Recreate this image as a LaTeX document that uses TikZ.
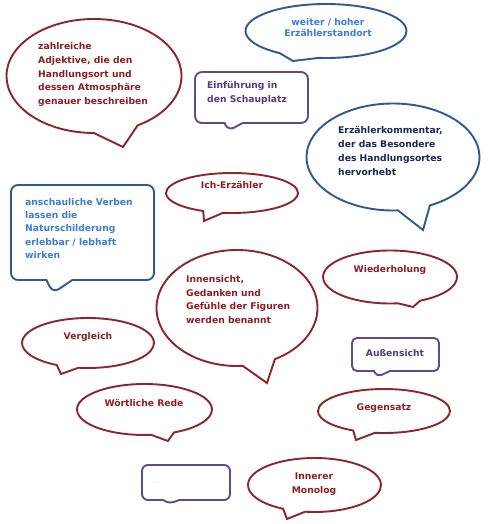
\documentclass[tikz,border=0pt]{standalone}
\usepackage{fontspec}
\setmainfont{DejaVu Sans}
\usetikzlibrary{shapes.callouts}
\definecolor{redline}{RGB}{140,38,40}
\definecolor{redtext}{RGB}{140,30,35}
\definecolor{blueline}{RGB}{45,90,145}
\definecolor{bluetext}{RGB}{60,125,210}
\definecolor{navytext}{RGB}{25,40,85}
\definecolor{purpline}{RGB}{95,75,140}
\definecolor{purptext}{RGB}{80,60,130}
\tikzset{
  bub/.style={ellipse callout, draw=redline, line width=1.9pt, inner sep=0pt, outer sep=0pt, callout pointer arc=22},
  bluebub/.style={bub, draw=blueline},
  box/.style={rectangle callout, draw=purpline, line width=1.9pt, inner sep=0pt, outer sep=0pt, rounded corners=7pt, callout pointer width=18pt},
  bluebox/.style={box, draw=blueline},
  txt/.style={font=\fontsize{9.2}{13.6}\selectfont\bfseries, align=left, inner sep=0pt},
  ctxt/.style={txt, align=center},
}
\begin{document}
\begin{tikzpicture}[x=1pt,y=-1pt]
\useasboundingbox[fill=white] (0,0) rectangle (488,524);
% shapes
\node[bub, minimum width=175pt, minimum height=114pt, callout absolute pointer={(123,147)}, callout pointer arc=30] (b1) at (94,76) {};
\node[bluebub, minimum width=161pt, minimum height=54pt, callout absolute pointer={(293,61)}, callout pointer arc=30] (b2) at (326,31) {};
\node[box, minimum width=113pt, minimum height=51pt, callout absolute pointer={(228,131)}] (b3) at (251.5,97.5) {};
\node[bluebub, minimum width=173pt, minimum height=107pt, callout absolute pointer={(423,230)}, callout pointer arc=22] (b4) at (393,157) {};
\node[bub, minimum width=132pt, minimum height=40pt, callout absolute pointer={(204,221)}, callout pointer arc=18] (b5) at (232,193) {};
\node[bluebox, minimum width=143pt, minimum height=95pt, callout absolute pointer={(53,293)}, callout pointer width=26pt] (b6) at (82.5,232.5) {};
\node[bub, minimum width=161pt, minimum height=116pt, callout absolute pointer={(267,383)}, callout pointer arc=24] (b7) at (237,308) {};
\node[bub, minimum width=134pt, minimum height=53pt, callout absolute pointer={(413,307)}, callout pointer arc=20] (b8) at (390,277) {};
\node[box, minimum width=87pt, minimum height=33pt, callout absolute pointer={(377,377)}, callout pointer width=16pt, rounded corners=5pt] (b9) at (395.5,354.5) {};
\node[bub, minimum width=132pt, minimum height=44pt, callout absolute pointer={(356,440)}, callout pointer arc=20] (b10) at (384,411) {};
\node[bub, minimum width=132pt, minimum height=50pt, callout absolute pointer={(61,374)}, callout pointer arc=20] (b11) at (88,343) {};
\node[bub, minimum width=135pt, minimum height=51pt, callout absolute pointer={(168,441)}, callout pointer arc=20] (b12) at (144.5,409.5) {};
\node[box, minimum width=88pt, minimum height=35pt, callout absolute pointer={(168,504)}, callout pointer width=16pt, rounded corners=6pt] (b13) at (186,482.5) {};
\node[bub, minimum width=133pt, minimum height=54pt, callout absolute pointer={(287,519)}, callout pointer arc=20] (b14) at (314.5,485) {};
% texts
\node[txt, text=redtext, anchor=west] (t1) at (38,74.5) {zahlreiche\\Adjektive, die den\\Handlungsort und\\dessen Atmosphäre\\genauer beschreiben};
\node[ctxt, text=bluetext, font=\fontsize{9.2}{11.8}\selectfont\bfseries] (t2) at (328,27.5) {weiter / hoher\\Erzählerstandort};
\node[txt, text=purptext, anchor=west] (t3) at (207,93) {Einführung in\\den Schauplatz};
\node[txt, text=navytext, anchor=west, font=\fontsize{9.2}{14}\selectfont\bfseries] (t4) at (338,151) {Erzählerkommentar,\\der das Besondere\\des Handlungsortes\\hervorhebt};
\node[ctxt, text=redtext] (t5) at (232,185) {Ich-Erzähler};
\node[txt, text=bluetext, anchor=west, font=\fontsize{9.2}{13.3}\selectfont\bfseries] (t6) at (25,228.5) {anschauliche Verben\\lassen die\\Naturschilderung\\erlebbar / lebhaft\\wirken};
\node[txt, text=redtext, anchor=west] (t7) at (186,299.5) {Innensicht,\\Gedanken und\\Gefühle der Figuren\\werden benannt};
\node[ctxt, text=redtext] (t8) at (390,270) {Wiederholung};
\node[ctxt, text=purptext] (t9) at (395,353) {Außensicht};
\node[ctxt, text=redtext] (t10) at (384,408) {Gegensatz};
\node[ctxt, text=redtext] (t11) at (88,337) {Vergleich};
\node[ctxt, text=redtext] (t12) at (144,403) {Wörtliche Rede};
\node[ctxt, text=purptext, font=\fontsize{3}{3}\selectfont] (t13) at (157,483) {...};
\node[ctxt, text=redtext, font=\fontsize{9.2}{14}\selectfont\bfseries] (t14) at (314,484) {Innerer\\Monolog};
\end{tikzpicture}
\end{document}
